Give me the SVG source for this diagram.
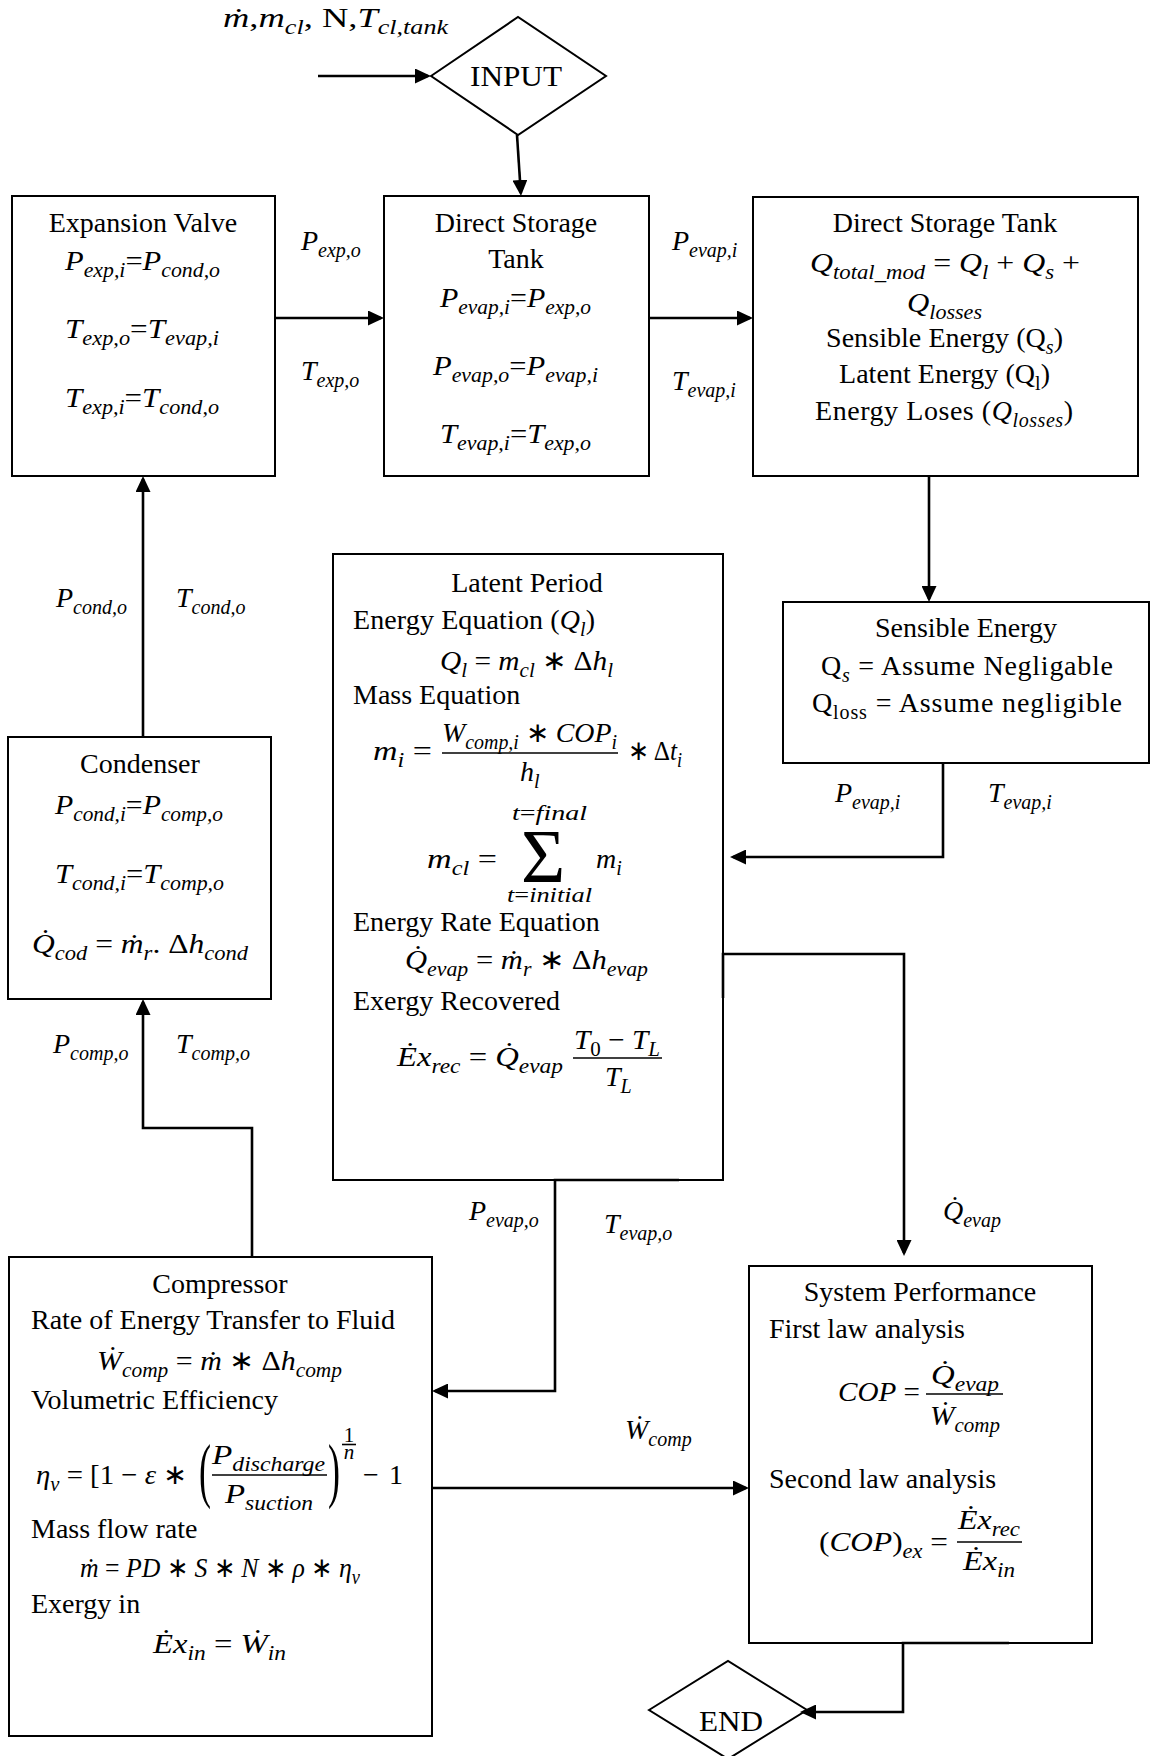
<svg xmlns="http://www.w3.org/2000/svg" width="1152" height="1756" viewBox="0 0 1152 1756">
<style>
text{font-family:"Liberation Serif","Times New Roman",serif;font-size:28px;fill:#000}
.m{font-style:italic}
.u{font-style:normal}
.s{font-size:20px;baseline-shift:-7px}
.c{text-anchor:middle}
.sm{font-size:20px}
.f30{font-size:30px}
.f21{font-size:21px}
.sig{font-size:76px}
.par{font-size:72px}
.box{fill:#fff;stroke:#000;stroke-width:2}
.ln{fill:none;stroke:#000;stroke-width:2.6}
.bar{stroke:#000;stroke-width:1.6}
</style>
<defs>
<marker id="ah" markerUnits="userSpaceOnUse" markerWidth="16" markerHeight="15" refX="13" refY="7.5" orient="auto"><path d="M0,0 L16,7.5 L0,15 z" fill="#000"/></marker>
</defs>
<rect width="1152" height="1756" fill="#fff"/>

<g id="input-label">
<text x="223" y="27" textLength="225" lengthAdjust="spacingAndGlyphs"><tspan class="m">ṁ</tspan>,<tspan class="m">m</tspan><tspan class="m s">cl</tspan>, N,<tspan class="m">T</tspan><tspan class="m s">cl,tank</tspan></text>
</g>

<g id="input">
<polygon class="box" points="431,76 518,17 606,76 518,135"/>
<text class="c f30" x="516" y="86" textLength="92" lengthAdjust="spacingAndGlyphs">INPUT</text>
</g>

<g id="expansion-valve">
<rect class="box" x="12" y="196" width="263" height="280"/>
<text class="c" x="143" y="232">Expansion Valve</text>
<text class="m" x="65" y="270" textLength="155" lengthAdjust="spacingAndGlyphs">P<tspan class="s">exp,i</tspan><tspan class="u">=</tspan>P<tspan class="s">cond,o</tspan></text>
<text class="m" x="65" y="338" textLength="154" lengthAdjust="spacingAndGlyphs">T<tspan class="s">exp,o</tspan><tspan class="u">=</tspan>T<tspan class="s">evap,i</tspan></text>
<text class="m" x="65" y="407" textLength="154" lengthAdjust="spacingAndGlyphs">T<tspan class="s">exp,i</tspan><tspan class="u">=</tspan>T<tspan class="s">cond,o</tspan></text>
</g>

<g id="direct-storage-tank">
<rect class="box" x="384" y="196" width="265" height="280"/>
<text class="c" x="516" y="232">Direct Storage</text>
<text class="c" x="516" y="268">Tank</text>
<text class="m" x="440" y="307" textLength="151" lengthAdjust="spacingAndGlyphs">P<tspan class="s">evap,i</tspan><tspan class="u">=</tspan>P<tspan class="s">exp,o</tspan></text>
<text class="m" x="433" y="375" textLength="165" lengthAdjust="spacingAndGlyphs">P<tspan class="s">evap,o</tspan><tspan class="u">=</tspan>P<tspan class="s">evap,i</tspan></text>
<text class="m" x="440" y="443" textLength="151" lengthAdjust="spacingAndGlyphs">T<tspan class="s">evap,i</tspan><tspan class="u">=</tspan>T<tspan class="s">exp,o</tspan></text>
</g>

<g id="direct-storage-tank-energy">
<rect class="box" x="753" y="197" width="385" height="279"/>
<text class="c" x="945" y="232">Direct Storage Tank</text>
<text class="m" x="810" y="272" textLength="270" lengthAdjust="spacingAndGlyphs">Q<tspan class="s">total_mod</tspan><tspan class="u"> = </tspan>Q<tspan class="s">l</tspan><tspan class="u"> + </tspan>Q<tspan class="s">s</tspan><tspan class="u"> +</tspan></text>
<text class="m" x="907" y="312" textLength="75" lengthAdjust="spacingAndGlyphs">Q<tspan class="s">losses</tspan></text>
<text x="826" y="347" textLength="237">Sensible Energy (Q<tspan class="m s">s</tspan>)</text>
<text x="839" y="383" textLength="211">Latent Energy (Q<tspan class="s">l</tspan>)</text>
<text x="815" y="420" textLength="258">Energy Loses (<tspan class="m">Q</tspan><tspan class="m s">losses</tspan>)</text>
</g>

<g id="sensible-energy">
<rect class="box" x="783" y="602" width="366" height="161"/>
<text class="c" x="966" y="637">Sensible Energy</text>
<text x="821" y="675" textLength="292">Q<tspan class="m s">s</tspan> = Assume Negligable</text>
<text x="812" y="712" textLength="310">Q<tspan class="s">loss</tspan> = Assume negligible</text>
</g>

<g id="latent-period">
<rect class="box" x="333" y="554" width="390" height="626"/>
<text class="c" x="527" y="592">Latent Period</text>
<text x="353" y="629" textLength="242">Energy Equation (<tspan class="m">Q</tspan><tspan class="m s">l</tspan>)</text>
<text class="m" x="440" y="670" textLength="173" lengthAdjust="spacingAndGlyphs">Q<tspan class="s">l</tspan><tspan class="u"> = </tspan>m<tspan class="s">cl</tspan><tspan class="u"> ∗ Δ</tspan>h<tspan class="s">l</tspan></text>
<text x="353" y="704">Mass Equation</text>
<text class="m" x="373" y="760" textLength="59" lengthAdjust="spacingAndGlyphs">m<tspan class="s">i</tspan><tspan class="u"> =</tspan></text>
<text class="m" x="442" y="742" textLength="175" lengthAdjust="spacingAndGlyphs">W<tspan class="s">comp,i</tspan><tspan class="u"> ∗ </tspan>COP<tspan class="s">i</tspan></text>
<line class="bar" x1="442" y1="753" x2="618" y2="753"/>
<text class="m" x="520" y="781">h<tspan class="s">l</tspan></text>
<text class="m" x="628" y="760" textLength="54" lengthAdjust="spacingAndGlyphs"><tspan class="u">∗ Δ</tspan>t<tspan class="s">i</tspan></text>
<text class="m sm" x="512" y="820" textLength="75" lengthAdjust="spacingAndGlyphs">t<tspan class="u">=</tspan>final</text>
<text class="c sig" x="543" y="882">Σ</text>
<text class="m" x="427" y="868" textLength="70" lengthAdjust="spacingAndGlyphs">m<tspan class="s">cl</tspan><tspan class="u"> =</tspan></text>
<text class="m" x="596" y="868">m<tspan class="s">i</tspan></text>
<text class="m sm" x="507" y="902" textLength="85" lengthAdjust="spacingAndGlyphs">t<tspan class="u">=</tspan>initial</text>
<text x="353" y="931">Energy Rate Equation</text>
<text class="m" x="405" y="969" textLength="243" lengthAdjust="spacingAndGlyphs">Q̇<tspan class="s">evap</tspan><tspan class="u"> = </tspan>ṁ<tspan class="s">r</tspan><tspan class="u"> ∗ Δ</tspan>h<tspan class="s">evap</tspan></text>
<text x="353" y="1010">Exergy Recovered</text>
<text class="m" x="397" y="1066" textLength="166" lengthAdjust="spacingAndGlyphs">Ėx<tspan class="s">rec</tspan><tspan class="u"> = </tspan>Q̇<tspan class="s">evap</tspan></text>
<text class="m" x="574" y="1049" textLength="86" lengthAdjust="spacingAndGlyphs">T<tspan class="s u">0</tspan><tspan class="u"> − </tspan>T<tspan class="s">L</tspan></text>
<line class="bar" x1="573" y1="1058" x2="662" y2="1058"/>
<text class="m" x="605" y="1086">T<tspan class="s">L</tspan></text>
</g>

<g id="condenser">
<rect class="box" x="8" y="737" width="263" height="262"/>
<text class="c" x="140" y="773">Condenser</text>
<text class="m" x="55" y="814" textLength="168" lengthAdjust="spacingAndGlyphs">P<tspan class="s">cond,i</tspan><tspan class="u">=</tspan>P<tspan class="s">comp,o</tspan></text>
<text class="m" x="55" y="883" textLength="169" lengthAdjust="spacingAndGlyphs">T<tspan class="s">cond,i</tspan><tspan class="u">=</tspan>T<tspan class="s">comp,o</tspan></text>
<text class="m" x="32" y="953" textLength="216" lengthAdjust="spacingAndGlyphs">Q̇<tspan class="s">cod</tspan><tspan class="u"> = </tspan>ṁ<tspan class="s">r</tspan><tspan class="u">. Δ</tspan>h<tspan class="s">cond</tspan></text>
</g>

<g id="compressor">
<rect class="box" x="9" y="1257" width="423" height="479"/>
<text class="c" x="220" y="1293">Compressor</text>
<text x="31" y="1329" textLength="364">Rate of Energy Transfer to Fluid</text>
<text class="m" x="97" y="1370" textLength="245" lengthAdjust="spacingAndGlyphs">Ẇ<tspan class="s">comp</tspan><tspan class="u"> = </tspan>ṁ<tspan class="u"> ∗ Δ</tspan>h<tspan class="s">comp</tspan></text>
<text x="31" y="1409">Volumetric Efficiency</text>
<text class="m" x="36" y="1484" textLength="151" lengthAdjust="spacingAndGlyphs">η<tspan class="s">v</tspan><tspan class="u"> = [1 − </tspan>ε<tspan class="u"> ∗</tspan></text>
<text class="par" transform="translate(199,1494) scale(0.5,1)">(</text>
<text class="m" x="212" y="1464" textLength="113" lengthAdjust="spacingAndGlyphs">P<tspan class="s">discharge</tspan></text>
<line class="bar" x1="212" y1="1475" x2="327" y2="1475"/>
<text class="m" x="225" y="1503" textLength="88" lengthAdjust="spacingAndGlyphs">P<tspan class="s">suction</tspan></text>
<text class="par" transform="translate(328,1494) scale(0.5,1)">)</text>
<text class="c f21" x="349" y="1442">1</text>
<line class="bar" x1="342" y1="1444.5" x2="356" y2="1444.5"/>
<text class="m c f21" x="349" y="1459">n</text>
<text x="363" y="1484" textLength="40">− 1</text>
<text x="31" y="1538">Mass flow rate</text>
<text class="m" x="80" y="1577" textLength="280" lengthAdjust="spacingAndGlyphs">ṁ<tspan class="u"> = </tspan>PD<tspan class="u"> ∗ </tspan>S<tspan class="u"> ∗ </tspan>N<tspan class="u"> ∗ </tspan>ρ<tspan class="u"> ∗ </tspan>η<tspan class="s">v</tspan></text>
<text x="31" y="1613">Exergy in</text>
<text class="m" x="153" y="1653" textLength="133" lengthAdjust="spacingAndGlyphs">Ėx<tspan class="s">in</tspan><tspan class="u"> = </tspan>Ẇ<tspan class="s">in</tspan></text>
</g>

<g id="system-performance">
<rect class="box" x="749" y="1266" width="343" height="377"/>
<text class="c" x="920" y="1301">System Performance</text>
<text x="769" y="1338">First law analysis</text>
<text class="m" x="838" y="1401" textLength="82" lengthAdjust="spacingAndGlyphs">COP<tspan class="u"> =</tspan></text>
<text class="m c" x="965" y="1384" textLength="68" lengthAdjust="spacingAndGlyphs">Q̇<tspan class="s">evap</tspan></text>
<line class="bar" x1="926" y1="1394" x2="1003" y2="1394"/>
<text class="m c" x="965" y="1425" textLength="70" lengthAdjust="spacingAndGlyphs">Ẇ<tspan class="s">comp</tspan></text>
<text x="769" y="1488">Second law analysis</text>
<text class="m" x="819" y="1551" textLength="129" lengthAdjust="spacingAndGlyphs"><tspan class="u">(</tspan>COP<tspan class="u">)</tspan><tspan class="s">ex</tspan><tspan class="u"> =</tspan></text>
<text class="m c" x="989" y="1529" textLength="62" lengthAdjust="spacingAndGlyphs">Ėx<tspan class="s">rec</tspan></text>
<line class="bar" x1="957" y1="1542" x2="1022" y2="1542"/>
<text class="m c" x="989" y="1570" textLength="52" lengthAdjust="spacingAndGlyphs">Ėx<tspan class="s">in</tspan></text>
</g>

<g id="end">
<polygon class="box" points="649,1710 728,1661 807,1710 728,1759"/>
<text class="c f30" x="731" y="1731" textLength="64" lengthAdjust="spacingAndGlyphs">END</text>
</g>

<g id="connectors">
<path class="ln" d="M318,76 H428" marker-end="url(#ah)"/>
<path class="ln" d="M517,135 L520.8,193" marker-end="url(#ah)"/>
<path class="ln" d="M275,318 H381" marker-end="url(#ah)"/>
<path class="ln" d="M649,318 H750" marker-end="url(#ah)"/>
<path class="ln" d="M929,476 V599" marker-end="url(#ah)"/>
<path class="ln" d="M943,763 V857 H733" marker-end="url(#ah)"/>
<path class="ln" d="M723,998 V954 H904 V1253" marker-end="url(#ah)"/>
<path class="ln" d="M679,1180 H555 V1391 H435" marker-end="url(#ah)"/>
<path class="ln" d="M252,1257 V1128 H143 V1002" marker-end="url(#ah)"/>
<path class="ln" d="M143,737 V479" marker-end="url(#ah)"/>
<path class="ln" d="M432,1488 H746" marker-end="url(#ah)"/>
<path class="ln" d="M1009,1643 H903 V1712 H803" marker-end="url(#ah)"/>
</g>

<g id="connector-labels">
<text class="m" x="301" y="250">P<tspan class="s">exp,o</tspan></text>
<text class="m" x="301" y="380">T<tspan class="s">exp,o</tspan></text>
<text class="m" x="672" y="250">P<tspan class="s">evap,i</tspan></text>
<text class="m" x="672" y="390">T<tspan class="s">evap,i</tspan></text>
<text class="m" x="835" y="802">P<tspan class="s">evap,i</tspan></text>
<text class="m" x="988" y="802">T<tspan class="s">evap,i</tspan></text>
<text class="m" x="56" y="607">P<tspan class="s">cond,o</tspan></text>
<text class="m" x="176" y="607">T<tspan class="s">cond,o</tspan></text>
<text class="m" x="53" y="1053">P<tspan class="s">comp,o</tspan></text>
<text class="m" x="176" y="1053">T<tspan class="s">comp,o</tspan></text>
<text class="m" x="469" y="1220">P<tspan class="s">evap,o</tspan></text>
<text class="m" x="604" y="1233">T<tspan class="s">evap,o</tspan></text>
<text class="m" x="943" y="1220">Q̇<tspan class="s">evap</tspan></text>
<text class="m" x="625" y="1439">Ẇ<tspan class="s">comp</tspan></text>
</g>
</svg>
